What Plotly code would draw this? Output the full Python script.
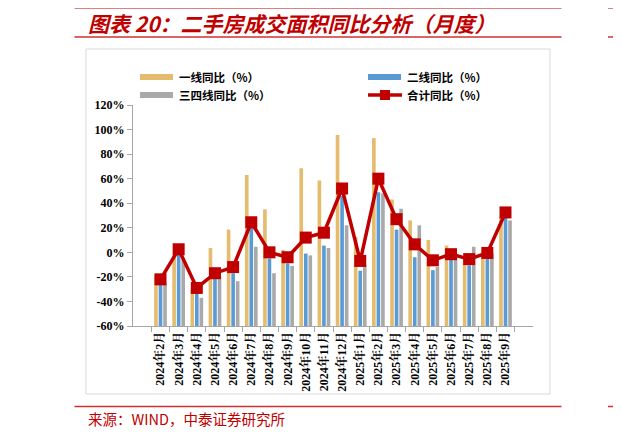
import plotly.graph_objects as go

# %% data (YoY %, monthly)
months = ["2024年2月", "2024年3月", "2024年4月", "2024年5月", "2024年6月",
          "2024年7月", "2024年8月", "2024年9月", "2024年10月", "2024年11月",
          "2024年12月", "2025年1月", "2025年2月", "2025年3月", "2025年4月",
          "2025年5月", "2025年6月", "2025年7月", "2025年8月", "2025年9月"]
tier1 = [-18, -2, -30, 3.5, 18.5, 63, 35, 2, 68.5, 58.5,
         95.5, 12.5, 93, 43, 26, 10, 5.5, -6, -2, 29]
tier2 = [-25, -1, -33, -21, -17, 20.5, -5, -9, -1, 5.5,
         46, -15, 49, 18.5, -4, -14.5, -6, -10.5, -5, 28.5]
tier34 = [-25, -6, -37, -20, -23.5, 4.5, -17, -11, -2.5, 3.5,
          22, -10.5, 48, 35.5, 22, -12, -2.5, 4.5, -1, 26]
total = [-22, 2.5, -29, -17, -12, 24.5, 0, -4, 12, 16,
         52, -7, 60, 27, 6.5, -6.5, -1.5, -5.5, -0.5, 32.5]

y_ticks = [-60, -40, -20, 0, 20, 40, 60, 80, 100, 120]
y_min = -60

legend_names = ["一线同比（%）", "二线同比（%）", "三四线同比（%）", "合计同比（%）"]
colors = ["#E5BB6E", "#5B9BD5", "#A9A9A9", "#C00000"]

# the page body has an 8px margin, so work in window pixels minus 8
OFF = 8
W, H = 621 - OFF, 438 - OFF
L, R, T, B = 133 - OFF, 533 - OFF, 105 - OFF, 326 - OFF   # plot area


def px(x):
    return (x - OFF - L) / (R - L)


def py(y):
    return (B - (y - OFF)) / (B - T)


# %% traces -- Excel-style: bars start at the axis minimum (-60%)
fig = go.Figure()
for name, vals, col in zip(legend_names[:3], [tier1, tier2, tier34], colors[:3]):
    fig.add_trace(go.Bar(x=months, y=[v - y_min for v in vals], base=y_min,
                         name=name, marker_color=col, marker_line_width=0,
                         showlegend=False))
fig.add_trace(go.Scatter(x=months, y=total, name=legend_names[3],
                         mode="lines+markers",
                         line=dict(color=colors[3], width=3.5),
                         marker=dict(symbol="square", size=12, color=colors[3]),
                         showlegend=False))

serif = "Liberation Serif, Noto Serif CJK SC, Noto Sans CJK SC"
cjk = "Noto Sans CJK SC"
red = "#C00000"

shapes = []
annotations = []

# chart frame
shapes.append(dict(type="rect", xref="paper", yref="paper",
                   x0=px(86), x1=px(550), y0=py(394), y1=py(49),
                   line=dict(color="#D9D9D9", width=1), layer="below"))
# red rules
for y, w in [(7, 3), (37, 1.5), (406.5, 1.5)]:
    c = red if w > 2 else "#D03030"
    shapes.append(dict(type="line", xref="paper", yref="paper",
                       x0=px(74.5), x1=px(561.5), y0=py(y), y1=py(y),
                       line=dict(color=c, width=w)))
    shapes.append(dict(type="line", xref="paper", yref="paper",
                       x0=px(608), x1=px(625), y0=py(y), y1=py(y),
                       line=dict(color=c, width=w)))

# manual legend (wide swatches, two rows)
leg_pos = [(140, 77), (368, 77), (140, 95), (368, 95)]
for i, (name, col) in enumerate(zip(legend_names, colors)):
    x0, yc = leg_pos[i]
    if i < 3:
        shapes.append(dict(type="rect", xref="paper", yref="paper",
                           x0=px(x0), x1=px(x0 + 33), y0=py(yc + 3), y1=py(yc - 3),
                           fillcolor=col, line_width=0))
    else:
        shapes.append(dict(type="line", xref="paper", yref="paper",
                           x0=px(x0), x1=px(x0 + 34), y0=py(yc), y1=py(yc),
                           line=dict(color=col, width=3.5)))
        shapes.append(dict(type="rect", xref="paper", yref="paper",
                           x0=px(x0 + 12), x1=px(x0 + 22), y0=py(yc + 5), y1=py(yc - 5),
                           fillcolor=col, line_width=0))
    annotations.append(dict(text=name, xref="paper", yref="paper",
                            x=px(x0 + 37), y=py(yc), xanchor="left", yanchor="middle",
                            showarrow=False,
                            font=dict(family=cjk, size=11.5, color="#000", weight="bold")))

# title and source
annotations.append(dict(text="<b><i>图表 20：二手房成交面积同比分析（月度）</i></b>",
                        xref="paper", yref="paper", x=px(86), y=py(23),
                        xanchor="left", yanchor="middle", showarrow=False,
                        font=dict(family=cjk, size=21, color=red)))
annotations.append(dict(text="来源：WIND，中泰证券研究所",
                        xref="paper", yref="paper", x=px(86), y=py(418),
                        xanchor="left", yanchor="middle", showarrow=False,
                        font=dict(family=cjk, size=14.5, color=red)))

fig.update_layout(
    width=W, height=H,
    margin=dict(l=L, r=W - R, t=T, b=H - B, pad=0, autoexpand=False),
    paper_bgcolor="white", plot_bgcolor="white",
    barmode="group", bargap=0.25, bargroupgap=0.2,
    shapes=shapes, annotations=annotations,
    showlegend=False,
)
fig.update_xaxes(type="category", tickangle=-90, showline=True,
                 linecolor="#A6A6A6", linewidth=1, ticks="outside",
                 tickson="boundaries", ticklen=5, tickcolor="#A6A6A6",
                 tickfont=dict(family=serif, size=12, color="#000", weight="bold"),
                 showgrid=False, zeroline=False)
fig.update_yaxes(range=[-60, 120], tickvals=y_ticks,
                 ticktext=[f"{v}%" for v in y_ticks],
                 showline=True, linecolor="#A6A6A6", linewidth=1,
                 ticks="outside", ticklen=5, tickcolor="#A6A6A6",
                 tickfont=dict(family=serif, size=12, color="#000", weight="bold"),
                 showgrid=False, zeroline=False)

fig.write_html("out.html")
